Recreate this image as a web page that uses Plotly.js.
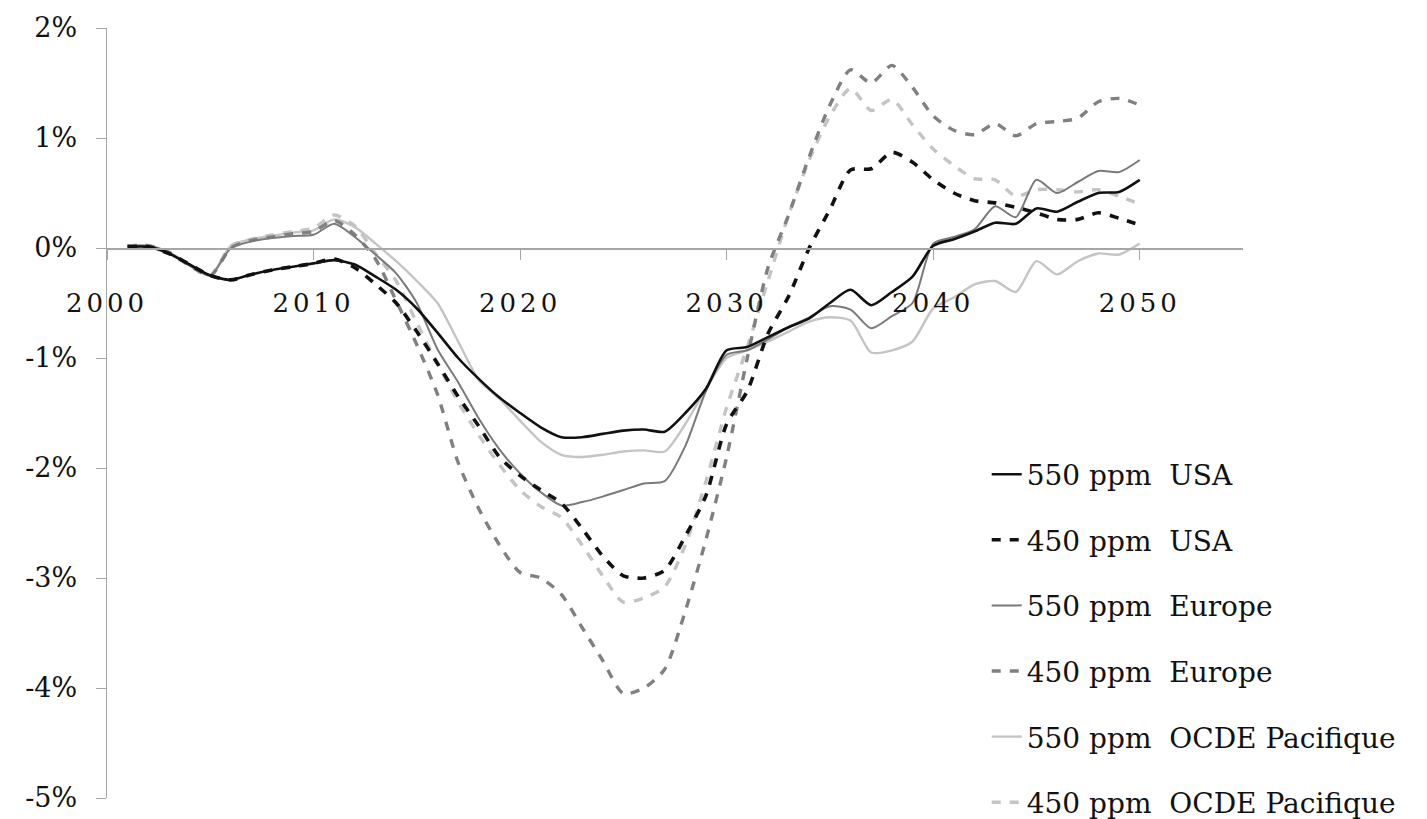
<!DOCTYPE html>
<html>
<head>
<meta charset="utf-8">
<script src="https://cdn.plot.ly/plotly-3.0.1.min.js"></script>
<style>
html,body{margin:0;padding:0;background:#fff;}
#chart{width:1427px;height:819px;}
#chart g.xtick text{letter-spacing:4px;}
</style>
</head>
<body>
<div id="chart"></div>
<script>
const years = [2001,2002,2003,2004,2005,2006,2007,2008,2009,2010,
  2011,2012,2013,2014,2015,2016,2017,2018,2019,2020,
  2021,2022,2023,2024,2025,2026,2027,2028,2029,2030,
  2031,2032,2033,2034,2035,2036,2037,2038,2039,2040,
  2041,2042,2043,2044,2045,2046,2047,2048,2049,2050];

const usa550 = [0.01,0.01,-0.05,-0.15,-0.25,-0.29,-0.24,-0.20,-0.17,-0.14,
  -0.11,-0.15,-0.26,-0.38,-0.55,-0.77,-1.00,-1.19,-1.36,-1.50,
  -1.63,-1.72,-1.72,-1.69,-1.66,-1.65,-1.67,-1.50,-1.28,-0.93,
  -0.90,-0.81,-0.72,-0.64,-0.50,-0.38,-0.52,-0.40,-0.26,0.02,
  0.08,0.15,0.23,0.22,0.36,0.33,0.42,0.50,0.51,0.62];

const usa450 = [0.01,0.01,-0.05,-0.15,-0.25,-0.29,-0.24,-0.20,-0.17,-0.14,
  -0.10,-0.18,-0.33,-0.50,-0.76,-1.05,-1.35,-1.62,-1.90,-2.07,
  -2.20,-2.32,-2.55,-2.80,-2.98,-3.00,-2.93,-2.62,-2.25,-1.60,
  -1.30,-0.78,-0.44,0.00,0.35,0.71,0.72,0.87,0.78,0.62,
  0.50,0.43,0.41,0.37,0.32,0.26,0.26,0.32,0.27,0.21];

const eur550 = [0.02,0.02,-0.04,-0.16,-0.25,0.00,0.06,0.09,0.11,0.12,
  0.22,0.10,-0.06,-0.23,-0.50,-0.92,-1.22,-1.55,-1.83,-2.05,
  -2.22,-2.34,-2.31,-2.26,-2.20,-2.14,-2.12,-1.80,-1.30,-0.97,
  -0.93,-0.83,-0.72,-0.63,-0.53,-0.56,-0.73,-0.62,-0.50,0.04,
  0.10,0.17,0.38,0.28,0.62,0.50,0.60,0.70,0.69,0.80];

const eur450 = [0.02,0.02,-0.04,-0.16,-0.25,0.00,0.07,0.10,0.13,0.15,
  0.25,0.12,-0.10,-0.48,-0.88,-1.33,-1.95,-2.37,-2.70,-2.95,
  -3.00,-3.15,-3.45,-3.75,-4.05,-4.00,-3.83,-3.30,-2.65,-1.90,
  -1.00,-0.18,0.30,0.83,1.30,1.62,1.50,1.66,1.46,1.20,
  1.07,1.03,1.13,1.02,1.13,1.15,1.18,1.33,1.36,1.30];

const ocde550 = [0.02,0.02,-0.04,-0.15,-0.25,0.02,0.08,0.11,0.14,0.16,
  0.26,0.19,0.04,-0.12,-0.30,-0.50,-0.85,-1.20,-1.37,-1.57,
  -1.76,-1.88,-1.90,-1.88,-1.85,-1.84,-1.85,-1.60,-1.28,-1.00,
  -0.93,-0.85,-0.76,-0.67,-0.63,-0.66,-0.95,-0.93,-0.85,-0.55,
  -0.45,-0.33,-0.30,-0.40,-0.12,-0.24,-0.12,-0.05,-0.06,0.04];

const ocde450 = [0.02,0.02,-0.04,-0.15,-0.25,0.02,0.08,0.12,0.15,0.18,
  0.30,0.20,-0.05,-0.30,-0.68,-1.05,-1.40,-1.70,-1.97,-2.20,
  -2.35,-2.45,-2.70,-2.98,-3.22,-3.18,-3.08,-2.70,-2.12,-1.45,
  -0.90,-0.30,0.30,0.80,1.20,1.45,1.25,1.35,1.12,0.90,
  0.75,0.63,0.62,0.47,0.53,0.53,0.51,0.53,0.47,0.40];

const seriesNames = ["550 ppm  USA","450 ppm  USA","550 ppm  Europe","450 ppm  Europe","550 ppm  OCDE Pacifique","450 ppm  OCDE Pacifique"];
const yTickVals = [2,1,0,-1,-2,-3,-4,-5];
const yTickText = ["2%","1%","0%","-1%","-2%","-3%","-4%","-5%"];
const xTickVals = [2000,2010,2020,2030,2040,2050];

const styles = [
  {color:"#111111", width:2.6, dash:"solid"},
  {color:"#111111", width:3.6, dash:"9px,9px"},
  {color:"#7a7a7a", width:2.0, dash:"solid"},
  {color:"#808080", width:3.4, dash:"9px,9px"},
  {color:"#c4c4c4", width:2.4, dash:"solid"},
  {color:"#c4c4c4", width:3.4, dash:"9px,9px"}
];
const data = [usa550, usa450, eur550, eur450, ocde550, ocde450];
const order = [5,4,3,2,1,0];

const traces = order.map(i => ({
  x: years, y: data[i], type: "scatter", mode: "lines",
  name: seriesNames[i], legendgroup: "g"+i, legendrank: i+1,
  line: {color: styles[i].color, width: styles[i].width, dash: styles[i].dash, shape: "spline", smoothing: 0.7},
  hoverinfo: "skip"
}));

const font = "DejaVu Serif, Georgia, serif";
const layout = {
  width: 1427, height: 819,
  margin: {l:107, r:184, t:28, b:21, autoexpand: false},
  paper_bgcolor: "#ffffff", plot_bgcolor: "#ffffff",
  showlegend: true,
  legend: {x: 0.7744, y: 0.4526, xanchor: "left", yanchor: "top",
    font: {family: font, size: 28, color: "#111"},
    tracegroupgap: 26.2, bgcolor: "rgba(0,0,0,0)", traceorder: "grouped"},
  xaxis: {range: [2000, 2055], tickvals: xTickVals, anchor: "free", position: 5/7,
    showline: true, linecolor: "#a6a6a6", linewidth: 1.5,
    ticks: "outside", ticklen: 10, tickcolor: "#a6a6a6", tickwidth: 1,
    showgrid: false, zeroline: false, ticklabelstandoff: 21,
    tickfont: {family: font, size: 26, color: "#111"}},
  yaxis: {range: [-5, 2], tickvals: yTickVals, ticktext: yTickText,
    showline: true, linecolor: "#a6a6a6", linewidth: 1.5,
    ticks: "outside", ticklen: 10, tickcolor: "#a6a6a6", tickwidth: 1,
    showgrid: false, zeroline: false, ticklabelstandoff: 13,
    tickfont: {family: font, size: 27, color: "#111"}}
};

Plotly.newPlot("chart", traces, layout, {displayModeBar: false, staticPlot: true});
</script>
</body>
</html>
